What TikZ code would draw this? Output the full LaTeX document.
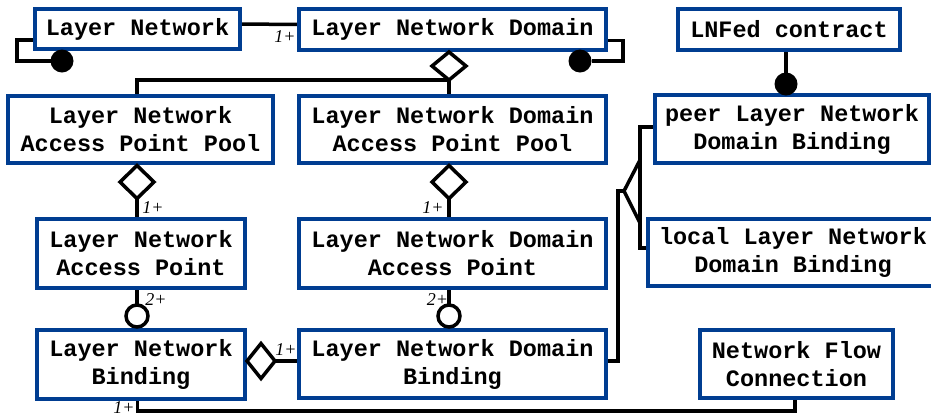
\documentclass[tikz,border=0pt]{standalone}
\usepackage{fontspec}
\newfontfamily\monob{Liberation Mono}
\newfontfamily\serifl{Liberation Serif}
\usetikzlibrary{shapes.geometric,backgrounds}
\definecolor{boxblue}{RGB}{0,61,145}

\begin{document}
\begin{tikzpicture}[x=1pt,y=-1pt,
  cls/.style={draw=boxblue, line width=4pt, fill=white, inner sep=0pt, outer sep=0pt,
    align=center, font=\monob\bfseries\fontsize{23.5}{28}\selectfont},
  conn/.style={line width=3.5pt, black},
  agg/.style={diamond, draw=black, line width=3.5pt, fill=white, inner sep=0pt, outer sep=0pt},
  filldot/.style={circle, fill=black, inner sep=0pt, outer sep=0pt, minimum size=23pt},
  opendot/.style={circle, draw=black, line width=3.5pt, fill=white, inner sep=0pt, outer sep=0pt, minimum size=22pt},
  mult/.style={font=\serifl\itshape\fontsize{18}{18}\selectfont, inner sep=0pt}
]
\useasboundingbox (0,0) rectangle (931,416);

% classes
\node[cls, minimum width=205pt, minimum height=40pt] (ln)     at (137.5,29)   {Layer Network};
\node[cls, minimum width=307pt, minimum height=41pt] (lnd)    at (452.5,29.5) {Layer Network Domain};
\node[cls, minimum width=222pt, minimum height=41pt] (lnfed)  at (789,29.5)   {LNFed contract};
\node[cls, minimum width=265pt, minimum height=67pt] (lnapp)  at (140.5,129.5){Layer Network\\Access Point Pool};
\node[cls, minimum width=307pt, minimum height=67pt] (lndapp) at (452.5,129.5){Layer Network Domain\\Access Point Pool};
\node[cls, minimum width=274pt, minimum height=68pt] (peer)   at (792,129)    {peer Layer Network\\Domain Binding};
\node[cls, minimum width=208pt, minimum height=69pt] (lnap)   at (141,253.5)  {Layer Network\\Access Point};
\node[cls, minimum width=307pt, minimum height=69pt] (lndap)  at (452.5,253.5){Layer Network Domain\\Access Point};
\node[cls, minimum width=290pt, minimum height=67pt] (local)  at (793,252.5)  {local Layer Network\\Domain Binding};
\node[cls, minimum width=208pt, minimum height=69pt] (lnb)    at (141,364.5)  {Layer Network\\Binding};
\node[cls, minimum width=307pt, minimum height=68pt] (lndb)   at (452.5,364)  {Layer Network Domain\\Binding};
\node[cls, minimum width=193pt, minimum height=68pt] (nfc)    at (796.5,364)  {Network Flow\\Connection};

% association ends
\node[agg, minimum width=34pt, minimum height=28pt] (d1) at (449,66) {};
\node[agg, minimum width=34pt, minimum height=33pt] (d2) at (137,182) {};
\node[agg, minimum width=34pt, minimum height=33pt] (d3) at (449,182) {};
\node[agg, minimum width=28pt, minimum height=35pt] (d4) at (261,361) {};
\node[filldot] (ld1) at (62,61) {};
\node[filldot] (ld2) at (580,61) {};
\node[filldot] (fd)  at (786,84) {};
\node[opendot] (oc1) at (137,316) {};
\node[opendot] (oc2) at (449,316) {};

\coordinate (apex) at (624,191);
\coordinate (ftop) at (640,160);
\coordinate (fbot) at (640,223);

% connectors
\begin{pgfonlayer}{background}
\fill[white] (0,0) rectangle (931,416);
\draw[conn] ([yshift=5pt]ln.east) -- ([yshift=5pt]lnd.west);
\draw[conn] ([yshift=-11pt]ln.west) -- ++(-18pt,0pt) |- (ld1);
\draw[conn] ([yshift=-11pt]lnd.east) -- ++(17pt,0pt) |- (ld2);
\draw[conn] (lnfed.south -| fd) -- (fd);
\draw[conn] (d1.south) -| ([xshift=-3.5pt]lnapp.north);
\draw[conn] (d1.south) -- (d1.south |- lndapp.north);
\draw[conn] (d2.south) -- (d2.south |- lnap.north);
\draw[conn] (d3.south) -- (d3.south |- lndap.north);
\draw[conn] (lnap.south -| oc1) -- (oc1);
\draw[conn] (lndap.south -| oc2) -- (oc2);
\draw[conn] (d4.east) -- (d4.east -| lndb.west);
\draw[conn] ([xshift=-3.5pt]lnb.south) -- ++(0pt,-12pt) -| ([xshift=-1.5pt]nfc.south);
\draw[conn] ([yshift=3pt]lndb.east) -| (618,191) -- (apex);
\draw[conn, line join=miter] (apex) -- (ftop) -- (fbot) -- cycle;
\draw[conn] ([yshift=2pt]peer.west) -- ++(-15pt,0pt) |- ([yshift=4.5pt]local.west);
\end{pgfonlayer}

% multiplicities
\node[mult] (m1) at (285,37)   {1+};
\node[mult] (m2) at (153,208)  {1+};
\node[mult] (m3) at (433,208)  {1+};
\node[mult] (m4) at (156,300)  {2+};
\node[mult] (m5) at (437.5,300){2+};
\node[mult] (m6) at (286,350)  {1+};
\node[mult] (m7) at (124,408)  {1+};
\end{tikzpicture}
\end{document}
